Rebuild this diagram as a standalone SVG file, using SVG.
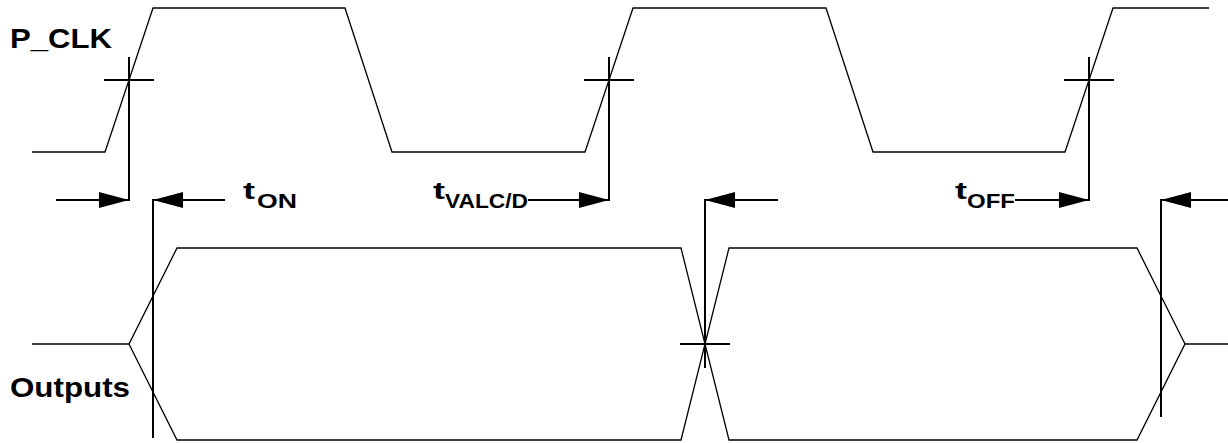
<svg xmlns="http://www.w3.org/2000/svg" width="1228" height="443" viewBox="0 0 1228 443">
<defs>
<style>
.wave{fill:none;stroke:#000;stroke-width:1.3;stroke-linejoin:miter}
.mark{fill:none;stroke:#000;stroke-width:2}
.lbl{font-family:"Liberation Sans",Arial,sans-serif;font-weight:bold;fill:#000}
</style>
<marker id="arr" markerUnits="userSpaceOnUse" markerWidth="30" markerHeight="16" refX="30" refY="8" orient="auto">
<path d="M0,0 L30,8 L0,16 z" fill="#000"/>
</marker>
</defs>
<rect width="1228" height="443" fill="#fff"/>
<g id="pclk">
<path class="wave" d="M32,152 L105,152 L153,8 L345,8 L392,152 L585,152 L633,8 L826,8 L873,152 L1065,152 L1113,8 L1209,8"/>
<text class="lbl" x="10" y="48" font-size="28" textLength="102" lengthAdjust="spacingAndGlyphs">P_CLK</text>
</g>
<g id="outputs">
<path class="wave" d="M32,344 L129,344 L177,248 L681,248 L729,440 L1137,440 L1185,344 L1228,344"/>
<path class="wave" d="M129,344 L177,440 L681,440 L729,248 L1137,248 L1185,344"/>
<text class="lbl" x="10" y="397" font-size="28" textLength="120" lengthAdjust="spacingAndGlyphs">Outputs</text>
</g>
<g id="connectors">
<line class="mark" x1="129" y1="57" x2="129" y2="201"/>
<line class="mark" x1="104" y1="80" x2="154" y2="80"/>
<line class="mark" x1="56" y1="200" x2="129" y2="200" marker-end="url(#arr)"/>
<line class="mark" x1="153" y1="199" x2="153" y2="438"/>
<line class="mark" x1="225" y1="200" x2="153" y2="200" marker-end="url(#arr)"/>
<line class="mark" x1="609" y1="57" x2="609" y2="201"/>
<line class="mark" x1="584" y1="80" x2="634" y2="80"/>
<line class="mark" x1="528" y1="200" x2="609" y2="200" marker-end="url(#arr)"/>
<line class="mark" x1="705" y1="199" x2="705" y2="368"/>
<line class="mark" x1="680" y1="344" x2="730" y2="344"/>
<line class="mark" x1="778" y1="200" x2="705" y2="200" marker-end="url(#arr)"/>
<line class="mark" x1="1089" y1="57" x2="1089" y2="201"/>
<line class="mark" x1="1064" y1="80" x2="1114" y2="80"/>
<line class="mark" x1="1015" y1="200" x2="1089" y2="200" marker-end="url(#arr)"/>
<line class="mark" x1="1161" y1="199" x2="1161" y2="417"/>
<line class="mark" x1="1228" y1="200" x2="1161" y2="200" marker-end="url(#arr)"/>
</g>
<g id="t_on">
<text class="lbl" x="243" y="199" font-size="24" textLength="12" lengthAdjust="spacingAndGlyphs">t</text>
<text class="lbl" x="257" y="208" font-size="21" textLength="40" lengthAdjust="spacingAndGlyphs">ON</text>
</g>
<g id="t_valcd">
<text class="lbl" x="433" y="199" font-size="24" textLength="12" lengthAdjust="spacingAndGlyphs">t</text>
<text class="lbl" x="445" y="208" font-size="21" textLength="83" lengthAdjust="spacingAndGlyphs">VALC/D</text>
</g>
<g id="t_off">
<text class="lbl" x="955" y="199" font-size="24" textLength="12" lengthAdjust="spacingAndGlyphs">t</text>
<text class="lbl" x="967" y="208" font-size="21" textLength="48" lengthAdjust="spacingAndGlyphs">OFF</text>
</g>
</svg>
